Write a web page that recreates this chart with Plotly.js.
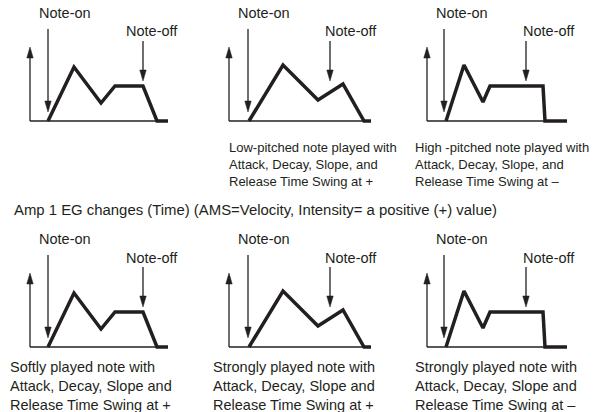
<!DOCTYPE html>
<html>
<head>
<meta charset="utf-8">
<script src="https://cdn.plot.ly/plotly-3.0.1.min.js"></script>
<style>html,body{margin:0;padding:0;background:#fff;}#chart{width:598px;height:412px;}</style>
</head>
<body>
<div id="chart"></div>
<script>
// ---- Data (panel-local units: time to the right of the level axis, level above baseline) ----
// Three envelope shapes: normal, slower (low-pitched / strongly played +), faster (high-pitched / strongly played -)
const envTimeNormal  = [18, 44, 71, 85, 113, 127, 138];
const envLevelNormal = [0, 54, 18, 35, 35, 0, 0];
const envTimeSlow    = [20, 54, 89, 114, 135, 142];
const envLevelSlow   = [0, 56, 21, 37, 0, 0];
const envTimeFast    = [19, 37, 56, 63, 116, 118, 140];
const envLevelFast   = [0, 56, 19, 35, 35, 0, 0];

const noteOnTime  = [18, 19, 17];      // per shape
const noteOffTime = [113, 101, 99];    // per shape
const baselineEnd = [138, 142, 140];   // per shape

// Six panels: top row (normal, low-pitched, high-pitched), bottom row (soft, strong +, strong -)
const panelShape = [0, 1, 2, 0, 1, 2];
const panelAxisX = [30, 229, 427, 30, 229, 427];   // pixel x of level axis
const panelBaseY = [121, 121, 121, 347, 347, 347]; // pixel y of baseline

const labelNoteOn  = "Note-on";
const labelNoteOff = "Note-off";
const topCaptions = [
  "",
  "Low-pitched note played with<br>Attack, Decay, Slope, and<br>Release Time Swing at +",
  "High -pitched note played with<br>Attack, Decay, Slope, and<br>Release Time Swing at –"
];
const bottomCaptions = [
  "Softly played note with<br>Attack, Decay, Slope and<br>Release Time Swing at +",
  "Strongly played note with<br>Attack, Decay, Slope and<br>Release Time Swing at +",
  "Strongly played note with<br>Attack, Decay, Slope and<br>Release Time Swing at –"
];
const middleTitle = "Amp 1 EG changes (Time) (AMS=Velocity, Intensity= a positive (+) value)";

// ---- Styling / layout constants ----
const W = 598, H = 412;
const INK = "#231f20";
const FONT = "Liberation Sans, Arial, Helvetica, sans-serif";
const X_RANGE = [-25, 165];
const Y_RANGE = [-10, 115];
const AXIS_TOP = 74;
const NOTEON_FROM = 92, NOTEON_TIP = 9;
const NOTEOFF_FROM = 80, NOTEOFF_TIP = 40;
const NOTEON_LABEL = [35, 108];
const NOTEOFF_LABEL = [122, 89.5];
const HEAD_LEN = 11, HEAD_HW = 3.2;

const envTimes  = [envTimeNormal, envTimeSlow, envTimeFast];
const envLevels = [envLevelNormal, envLevelSlow, envLevelFast];

const traces = [];
const shapes = [];
const annotations = [];
const layout = {
  width: W, height: H,
  margin: {l: 0, r: 0, t: 0, b: 0},
  paper_bgcolor: "#fff", plot_bgcolor: "rgba(0,0,0,0)",
  showlegend: false,
  font: {family: FONT, color: INK}
};

function arrowHead(xr, yr, x, tip, up) {
  const base = up ? tip - HEAD_LEN : tip + HEAD_LEN;
  return {type: "path", xref: xr, yref: yr, layer: "above",
    path: `M ${x},${tip} L ${x - HEAD_HW},${base} L ${x + HEAD_HW},${base} Z`,
    fillcolor: INK, line: {color: INK, width: 0.5}};
}
function vline(xr, yr, x, y0, y1) {
  return {type: "line", xref: xr, yref: yr, x0: x, x1: x, y0: y0, y1: y1,
    line: {color: INK, width: 1.3}};
}

for (let i = 0; i < 6; i++) {
  const s = panelShape[i];
  const n = i + 1;
  const xa = "xaxis" + (n === 1 ? "" : n), ya = "yaxis" + (n === 1 ? "" : n);
  const xr = "x" + (n === 1 ? "" : n), yr = "y" + (n === 1 ? "" : n);
  const ax = panelAxisX[i], by = panelBaseY[i];
  const pxL = ax + X_RANGE[0], pxR = ax + X_RANGE[1];
  const pyTop = by - Y_RANGE[1], pyBot = by - Y_RANGE[0];
  layout[xa] = {domain: [pxL / W, pxR / W], range: X_RANGE, visible: false, fixedrange: true, anchor: yr};
  layout[ya] = {domain: [(H - pyBot) / H, (H - pyTop) / H], range: Y_RANGE, visible: false, fixedrange: true, anchor: xr};

  // level axis with arrow and baseline
  shapes.push(vline(xr, yr, 0, 0, AXIS_TOP - HEAD_LEN + 1));
  shapes.push(arrowHead(xr, yr, 0, AXIS_TOP, true));
  shapes.push({type: "line", xref: xr, yref: yr, x0: 0, x1: baselineEnd[s], y0: 0, y1: 0,
    line: {color: INK, width: 1.3}});

  // envelope
  traces.push({type: "scatter", mode: "lines", x: envTimes[s], y: envLevels[s],
    xaxis: xr, yaxis: yr, line: {color: INK, width: 3.5, shape: "linear"},
    hoverinfo: "skip", cliponaxis: false});

  // note-on / note-off arrows
  shapes.push(vline(xr, yr, noteOnTime[s], NOTEON_FROM, NOTEON_TIP + HEAD_LEN - 1));
  shapes.push(arrowHead(xr, yr, noteOnTime[s], NOTEON_TIP, false));
  shapes.push(vline(xr, yr, noteOffTime[s], NOTEOFF_FROM, NOTEOFF_TIP + HEAD_LEN - 1));
  shapes.push(arrowHead(xr, yr, noteOffTime[s], NOTEOFF_TIP, false));

  annotations.push({xref: xr, yref: yr, x: NOTEON_LABEL[0], y: NOTEON_LABEL[1], text: labelNoteOn,
    showarrow: false, xanchor: "center", yanchor: "middle", font: {size: 14.5, family: FONT, color: INK}});
  annotations.push({xref: xr, yref: yr, x: NOTEOFF_LABEL[0], y: NOTEOFF_LABEL[1], text: labelNoteOff,
    showarrow: false, xanchor: "center", yanchor: "middle", font: {size: 14.5, family: FONT, color: INK}});
}

// captions (paper coordinates)
const topCapX = [0, 227, 413], topCapY = 164;
const botCapX = [8, 211, 413], botCapY = 386;
for (let k = 0; k < 3; k++) {
  if (topCaptions[k]) {
    annotations.push({xref: "paper", yref: "paper", x: topCapX[k] / W, y: 1 - topCapY / H,
      text: topCaptions[k], showarrow: false, xanchor: "left", yanchor: "middle", align: "left",
      font: {size: 13, family: FONT, color: INK}});
  }
  annotations.push({xref: "paper", yref: "paper", x: botCapX[k] / W, y: 1 - botCapY / H,
    text: bottomCaptions[k], showarrow: false, xanchor: "left", yanchor: "middle", align: "left",
    font: {size: 14.5, family: FONT, color: INK}});
}
annotations.push({xref: "paper", yref: "paper", x: 12 / W, y: 1 - 210 / H, text: middleTitle,
  showarrow: false, xanchor: "left", yanchor: "middle", align: "left",
  font: {size: 14.9, family: FONT, color: INK}});

layout.shapes = shapes;
layout.annotations = annotations;

Plotly.newPlot("chart", traces, layout, {staticPlot: true, displayModeBar: false});
</script>
</body>
</html>
